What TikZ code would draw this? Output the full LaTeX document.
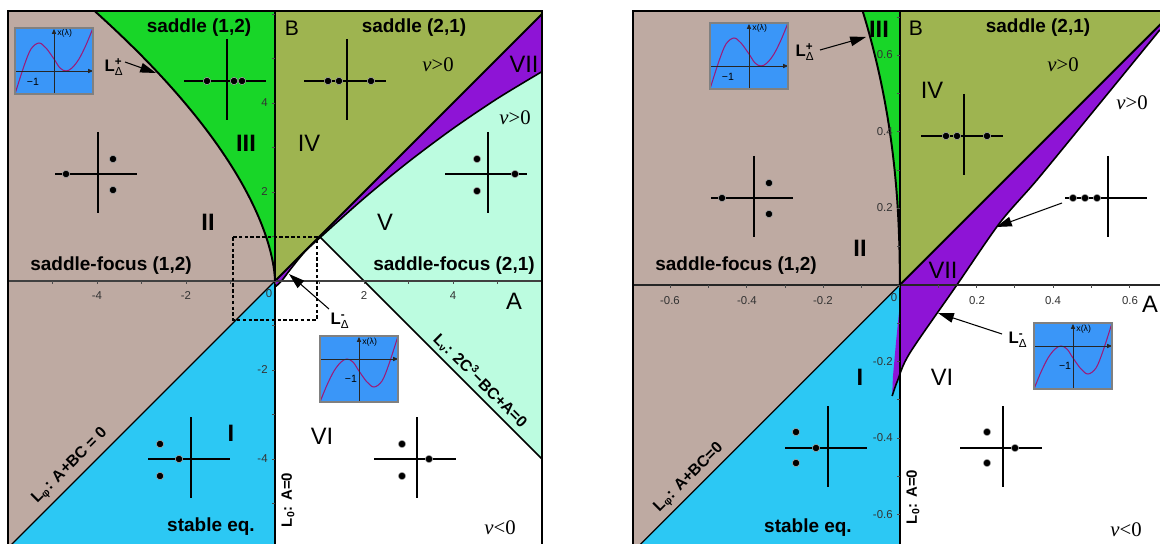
\documentclass[tikz,border=0pt]{standalone}
\usepackage{amsmath}
\usepackage{fontspec}
\setmainfont{Liberation Sans}
\newfontfamily\serifnu{Liberation Serif}
\usetikzlibrary{arrows.meta}
\definecolor{brownreg}{HTML}{BEAAA2}
\definecolor{greenreg}{HTML}{18D628}
\definecolor{olivereg}{HTML}{9EB450}
\definecolor{purplereg}{HTML}{8E14D6}
\definecolor{mintreg}{HTML}{BCFCE0}
\definecolor{bluereg}{HTML}{2CC8F4}
\definecolor{insetblue}{HTML}{3A96F8}
\definecolor{magcurve}{HTML}{9B1B7A}
\tikzset{
 crossline/.style={line width=0.8pt, black},
 dotst/.style={fill=black, draw=gray!70, line width=0.3pt},
 bdry/.style={line width=1.1pt, black},
 thinbdry/.style={line width=0.7pt, black},
 frameline/.style={line width=1.4pt, black},
 boldlab/.style={font=\fontsize{10.8}{12}\selectfont\bfseries, inner sep=0pt},
 romlab/.style={font=\fontsize{13.5}{15}\selectfont, inner sep=0pt},
 romblab/.style={font=\fontsize{13.5}{15}\selectfont\bfseries, inner sep=0pt},
 axlab/.style={font=\fontsize{12.5}{14}\selectfont, inner sep=0pt},
 ticklab/.style={font=\fontsize{6.5}{7}\selectfont, text=black!80, inner sep=0pt},
 nulab/.style={font=\fontsize{11.8}{13}\serifnu, inner sep=0pt},
 llab/.style={font=\fontsize{9.5}{11}\selectfont\bfseries, inner sep=0pt},
 linelab/.style={font=\fontsize{9}{10}\selectfont\bfseries, inner sep=0pt},
 labarrow/.style={line width=0.6pt, -{Triangle[length=9pt,width=5.5pt]}},
 insfont/.style={font=\fontsize{5}{6}\selectfont, inner sep=0pt},
 insaxis/.style={line width=0.5pt, black!85, -{Triangle[length=2.8pt,width=2.4pt]}},
 phasecross/.pic={\draw[crossline] (-43,0) -- (39,0) (0,-42) -- (0,39);},
 insetplus/.pic={
  \begin{scope}[yscale=-1]
   \fill[insetblue] (-39,-23) rectangle (39,43);
   \begin{scope}
    \clip (-39,-23) rectangle (39,43);
    \draw[magcurve, line width=0.6pt] plot[smooth, tension=0.55] coordinates {(-39,-23) (-30,5) (-23,22) (-15,28) (-8,23) (0,12) (6,3) (12,0) (18,3) (25,12) (32,26) (39,43)};
   \end{scope}
   \draw[insaxis] (-39,0) -- (39,0);
   \draw[insaxis] (0,-23) -- (0,42);
   \node[insfont, anchor=west] (-xl) at (3,38) {x(λ)};
   \node[insfont, font=\fontsize{6}{7}\selectfont] (-m1) at (-21,-11) {−1};
   \draw[gray, line width=0.6pt] (-39,-23) rectangle (39,43);
  \end{scope}
 },
 insetminus/.pic={
  \begin{scope}[yscale=-1]
   \fill[insetblue] (-39,-43) rectangle (39,23);
   \begin{scope}
    \clip (-39,-43) rectangle (39,23);
    \draw[magcurve, line width=0.6pt] plot[smooth, tension=0.55] coordinates {(39,23) (30,-5) (23,-22) (15,-28) (8,-23) (0,-12) (-6,-3) (-12,0) (-18,-3) (-25,-12) (-32,-26) (-39,-43)};
   \end{scope}
   \draw[insaxis] (-39,0) -- (39,0);
   \draw[insaxis] (0,-43) -- (0,22);
   \node[insfont, anchor=west] (-xl) at (3,17) {x(λ)};
   \node[insfont, font=\fontsize{6}{7}\selectfont] (-m1) at (-8,-20) {−1};
   \draw[gray, line width=0.6pt] (-39,-43) rectangle (39,23);
  \end{scope}
 }
}
\begin{document}
\begin{tikzpicture}[x=0.02cm, y=-0.02cm]
\useasboundingbox (0,0) rectangle (1160,544);
\fill[white] (0,0) rectangle (1160,544);

% ================= LEFT PANEL =================
\begin{scope}[shift={(5.5cm,-5.62cm)}, x=0.89cm, y=0.89cm]
 \begin{scope}
  \clip (-6,-5.91) rectangle (6,6.067);
  \fill[brownreg] (-6,-5.91) rectangle (0,6.067);
  \fill[bluereg] (0,0) -- (0,-5.91) -- (-5.91,-5.91) -- cycle;
  \fill[greenreg] (0,0) -- plot[domain=0.01:6.067, samples=60, variable=\t] ({0-((\t/2.62)^1.6667)}, \t) -- (0,6.067) -- cycle;
  \fill[olivereg] (0,0) -- (0,6.067) -- (6,6.067) -- (6,6) -- cycle;
  \fill[mintreg] (1.02,0.98) -- plot[smooth] coordinates {(1.02,0.98) (2,1.856) (3,2.676) (4,3.424) (5,4.1) (6,4.704)} -- (6,-4) -- cycle;
  \fill[purplereg] (0,0) -- (6,6) -- (6,4.704) -- plot[smooth] coordinates {(6,4.704) (5,4.1) (4,3.424) (3,2.676) (2,1.856) (1.02,0.98) (0.68,0.666) (0.358,0.274) (0.149,0) (0.02,-0.12)} -- cycle;
  % boundaries
  \draw[thinbdry] (0,0) -- (-6,-6);
  \draw[bdry] (0,0) -- plot[domain=0.01:6.067, samples=60, variable=\t] ({0-((\t/2.62)^1.6667)}, \t);
  \draw[bdry] (0,0) -- (6.1,6.1);
  \draw[thinbdry, line width=0.9pt] plot[smooth] coordinates {(0.02,-0.12) (0.149,0) (0.358,0.274) (0.68,0.666) (1.02,0.98) (2,1.856) (3,2.676) (4,3.424) (5,4.1) (6,4.704)};
  \draw[thinbdry, line width=0.9pt] (1.02,0.98) -- (6,-4);
  % axes
  \draw[black!75, line width=0.7pt] (-6,0) -- (6,0);
  \draw[black, line width=1.1pt] (0,-5.91) -- (0,6.067);
  \foreach \a in {-5,...,5} {\draw[black!70, line width=0.4pt] (\a,0) -- ++(0,-1.7pt);}
  \foreach \b in {-5,...,6} {\draw[black!70, line width=0.4pt] (0,\b) -- ++(-1.7pt,0);}
 \end{scope}
\end{scope}
\draw[frameline] (8,544) -- (8,11) -- (542,11) -- (542,544);

% ================= RIGHT PANEL =================
\begin{scope}[shift={(18cm,-5.7cm)}, x=7.66cm, y=7.66cm]
 \begin{scope}
  \clip (-0.697,-0.676) rectangle (0.679,0.715);
  \fill[brownreg] (-0.697,-0.676) rectangle (0,0.715);
  \fill[bluereg] (0,0) -- (0,-0.676) -- (-0.676,-0.676) -- cycle;
  \fill[greenreg] (0,0) -- plot[domain=0.005:0.715, samples=60, variable=\t] ({0-0.207*((\t)^2.26)}, \t) -- (0,0.715) -- cycle;
  \fill[olivereg] (0,0) -- (0,0.715) -- (0.679,0.715) -- (0.679,0.679) -- cycle;
  \fill[purplereg] (0,0) -- (0.679,0.679) -- (0.679,0.666) -- plot[smooth] coordinates {(0.679,0.666) (0.5,0.447) (0.358,0.274) (0.261,0.162) (0.149,0) (0.026,-0.178) (-0.006,-0.25) (-0.02,-0.29)} -- (-0.018,-0.24) -- (-0.01,-0.15) -- (0,-0.05) -- cycle;
  % boundaries
  \draw[thinbdry] (0,0) -- (-0.7,-0.7);
  \draw[bdry] (0,0) -- plot[domain=0.005:0.715, samples=60, variable=\t] ({0-0.207*((\t)^2.26)}, \t);
  \draw[bdry] (0,0) -- (0.72,0.72);
  \draw[thinbdry, line width=0.9pt] plot[smooth] coordinates {(-0.02,-0.29) (-0.006,-0.25) (0.026,-0.178) (0.149,0) (0.261,0.162) (0.358,0.274) (0.5,0.447) (0.679,0.666)};
  % axes
  \draw[black!85, line width=0.7pt] (-0.697,0) -- (0.679,0);
  \draw[black, line width=1.1pt] (0,-0.676) -- (0,0.715);
  \foreach \a in {-6,...,6} {\draw[black!70, line width=0.4pt] (\a/10,0) -- ++(0,-1.7pt);}
  \foreach \b in {-6,...,7} {\draw[black!70, line width=0.4pt] (0,\b/10) -- ++(-1.7pt,0);}
 \end{scope}
\end{scope}
\draw[frameline] (633,544) -- (633,11) -- (1160,11);

% ---- tick labels left ----
\node[ticklab] (tlA1) at (97,296) {-4};
\node[ticklab] (tlA2) at (186,296) {-2};
\node[ticklab] (tlA3) at (269,294) {0};
\node[ticklab] (tlA4) at (364,296) {2};
\node[ticklab] (tlA5) at (453,296) {4};
\node[ticklab, anchor=east] (tlB1) at (268,103) {4};
\node[ticklab, anchor=east] (tlB2) at (268,192) {2};
\node[ticklab, anchor=east] (tlB3) at (268,370) {-2};
\node[ticklab, anchor=east] (tlB4) at (268,459) {-4};
% ---- tick labels right ----
\node[ticklab] (trA1) at (670,301) {-0.6};
\node[ticklab] (trA2) at (747,301) {-0.4};
\node[ticklab] (trA3) at (823,301) {-0.2};
\node[ticklab] (trA4) at (894,298) {0};
\node[ticklab] (trA5) at (977,301) {0.2};
\node[ticklab] (trA6) at (1053,301) {0.4};
\node[ticklab] (trA7) at (1130,301) {0.6};
\node[ticklab, anchor=east] (trB1) at (893,55) {0.6};
\node[ticklab, anchor=east] (trB2) at (893,132) {0.4};
\node[ticklab, anchor=east] (trB3) at (893,208) {0.2};
\node[ticklab, anchor=east] (trB4) at (893,362) {-0.2};
\node[ticklab, anchor=east] (trB5) at (893,438) {-0.4};
\node[ticklab, anchor=east] (trB6) at (893,515) {-0.6};

% ---- dashed box ----
\draw[dashed, dash pattern=on 2pt off 1.3pt, line width=0.85pt] (233,237) rectangle (317,320);

% ---- phase portraits left ----
\pic (pcIII) at (227,81) {phasecross};
\filldraw[dotst] (207,81) circle[radius=2.1pt] (234,81) circle[radius=2.1pt] (242,81) circle[radius=2.1pt];
\pic (pcII) at (98,174) {phasecross};
\filldraw[dotst] (66,174) circle[radius=2.1pt] (113,159) circle[radius=2.1pt] (113,190) circle[radius=2.1pt];
\pic (pcIV) at (347,81) {phasecross};
\filldraw[dotst] (328,81) circle[radius=2.1pt] (339,81) circle[radius=2.1pt] (371,81) circle[radius=2.1pt];
\pic (pcV) at (488,174) {phasecross};
\filldraw[dotst] (477,159) circle[radius=2.1pt] (477,191) circle[radius=2.1pt] (515,174) circle[radius=2.1pt];
\pic (pcI) at (191,459) {phasecross};
\filldraw[dotst] (160,444) circle[radius=2.1pt] (160,476) circle[radius=2.1pt] (179,459) circle[radius=2.1pt];
\pic (pcVI) at (417,459) {phasecross};
\filldraw[dotst] (402,444) circle[radius=2.1pt] (402,476) circle[radius=2.1pt] (429,459) circle[radius=2.1pt];
% ---- phase portraits right ----
\pic (qcII) at (754,198) {phasecross};
\filldraw[dotst] (722,198) circle[radius=2.1pt] (769,183) circle[radius=2.1pt] (769,214) circle[radius=2.1pt];
\pic (qcIV) at (964,136) {phasecross};
\filldraw[dotst] (946,136) circle[radius=2.1pt] (957,136) circle[radius=2.1pt] (987,136) circle[radius=2.1pt];
\pic (qcVII) at (1108,198) {phasecross};
\filldraw[dotst] (1073,198) circle[radius=2.1pt] (1085,198) circle[radius=2.1pt] (1097,198) circle[radius=2.1pt];
\pic (qcI) at (828,448) {phasecross};
\filldraw[dotst] (796,432) circle[radius=2.1pt] (796,463) circle[radius=2.1pt] (816,448) circle[radius=2.1pt];
\pic (qcVI) at (1003,448) {phasecross};
\filldraw[dotst] (987,432) circle[radius=2.1pt] (987,463) circle[radius=2.1pt] (1015,448) circle[radius=2.1pt];

% ---- insets ----
\pic (insL1) at (54,71) {insetplus};
\pic (insL2) at (359,359) {insetminus};
\pic (insR1) at (749,66) {insetplus};
\pic (insR2) at (1073,346) {insetminus};

% ---- labels left ----
\node[boldlab] (tS12) at (199,28) {saddle (1,2)};
\node[axlab, font=\fontsize{12}{14}\selectfont] (tBl) at (292,28) {B};
\node[boldlab] (tS21) at (414,28) {saddle (2,1)};
\node[nulab] (tnu1) at (438,65) {{\itshape ν}>0};
\node[nulab] (tnu2) at (515,118) {{\itshape ν}>0};
\node[romlab] (tVIIl) at (524,64) {VII};
\node[romblab] (tIIIl) at (246,143) {III};
\node[romlab] (tIVl) at (309,143) {IV};
\node[romblab] (tIIl) at (208,222) {II};
\node[romlab] (tVl) at (385,222) {V};
\node[boldlab] (tSF12) at (111,266) {saddle-focus (1,2)};
\node[boldlab] (tSF21) at (454,266) {saddle-focus (2,1)};
\node[axlab, font=\fontsize{13.5}{15}\selectfont] (tAl) at (514,301) {A};
\node[romblab] (tIl) at (231,433) {I};
\node[boldlab] (tSEl) at (211,527) {stable eq.};
\node[romlab] (tVIl) at (322,436) {VI};
\node[nulab] (tnu3) at (500,528) {{\itshape ν}<0};
\node[linelab, rotate=45] (tLphil) at (70,466) {L$_{\text{φ}}$: A+BC = 0};
\node[linelab, font=\fontsize{8.5}{10}\selectfont\bfseries, rotate=90] (tL0l) at (288,500) {L$_{\text{0}}$: A=0};
\node[linelab, rotate=-45] (tLnu) at (481,380) {L$_{\text{ν}}$: 2C\textsuperscript{3}−BC+A=0};
\node[llab] (lpL) at (114,67) {L$^{\text{+}}_{\text{\mdseries Δ}}$};
\coordinate (lpLtail) at (125,62);
\coordinate (lpLtip) at (156,73);
\draw[labarrow] (lpLtail) -- (lpLtip);
\node[llab] (lmL) at (340,321) {L$^{\text{-}}_{\text{\mdseries Δ}}$};
\coordinate (lmLtail) at (329,309);
\coordinate (lmLtip) at (289,274);
\draw[labarrow] (lmLtail) -- (lmLtip);

% ---- labels right ----
\node[romblab] (tIIIr) at (879,29) {III};
\node[axlab, font=\fontsize{12}{14}\selectfont] (tBr) at (916,28) {B};
\node[boldlab] (tS21r) at (1038,28) {saddle (2,1)};
\node[nulab] (tnu4) at (1063,65) {{\itshape ν}>0};
\node[nulab] (tnu5) at (1132,103) {{\itshape ν}>0};
\node[romlab] (tIVr) at (932,90) {IV};
\node[romblab] (tIIr) at (860,248) {II};
\node[boldlab] (tSF12r) at (736,266) {saddle-focus (1,2)};
\node[romlab] (tVIIr) at (943,270) {VII};
\node[axlab, font=\fontsize{13.5}{15}\selectfont] (tAr) at (1150,304) {A};
\node[romblab] (tIr) at (860,377) {I};
\node[romlab] (tVIr) at (942,377) {VI};
\node[boldlab] (tSEr) at (808,528) {stable eq.};
\node[nulab] (tnu6) at (1126,530) {{\itshape ν}<0};
\node[linelab, rotate=45] (tLphir) at (689,478) {L$_{\text{φ}}$: A+BC=0};
\node[linelab, font=\fontsize{8.5}{10}\selectfont\bfseries, rotate=90] (tL0r) at (913,497) {L$_{\text{0}}$: A=0};
\node[llab] (rpL) at (805,52) {L$^{\text{+}}_{\text{\mdseries Δ}}$};
\coordinate (rpLtail) at (820,50);
\coordinate (rpLtip) at (866,37);
\draw[labarrow] (rpLtail) -- (rpLtip);
\node[llab] (rmL) at (1018,340) {L$^{\text{-}}_{\text{\mdseries Δ}}$};
\coordinate (rmLtail) at (1002,334);
\coordinate (rmLtip) at (938,313);
\draw[labarrow] (rmLtail) -- (rmLtip);
\coordinate (qarrtail) at (1062,203);
\coordinate (qarrtip) at (996,227);
\draw[labarrow] (qarrtail) -- (qarrtip);
\end{tikzpicture}
\end{document}
